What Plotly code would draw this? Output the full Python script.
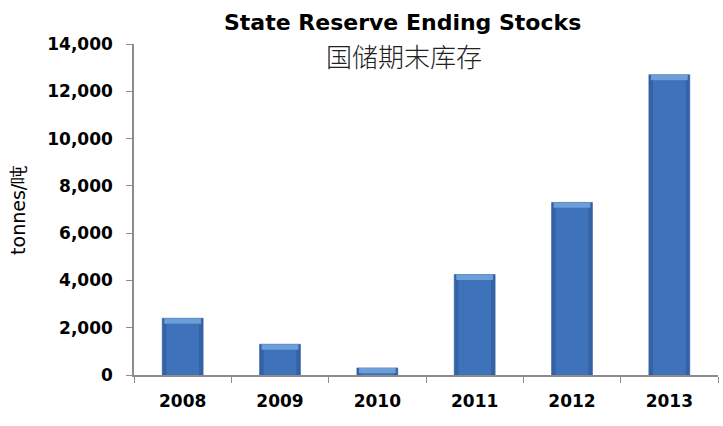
import plotly.graph_objects as go

# State reserve ending stocks by year (tonnes)
years = ["2008", "2009", "2010", "2011", "2012", "2013"]
stocks = [2400, 1300, 300, 4250, 7300, 12700]

y_ticks = [0, 2000, 4000, 6000, 8000, 10000, 12000, 14000]
y_tick_labels = ["0", "2,000", "4,000", "6,000", "8,000", "10,000", "12,000", "14,000"]

title_en = "State Reserve Ending Stocks"
title_zh = "国储期末库存"
y_title = "tonnes/吨"

BAR_W = 0.42
CAP = 230  # height of the light bevel at the top of each bar, in data units

fig = go.Figure()

# outer (darker edge) bar
fig.add_trace(go.Bar(
    x=years, y=stocks, width=BAR_W,
    marker=dict(color="#3462A6", line=dict(color="#2F5C9C", width=0.6)),
    hoverinfo="x+y",
))
# inner lighter body for a rounded look
fig.add_trace(go.Bar(
    x=years, y=[max(v - CAP, 0) for v in stocks], width=BAR_W * 0.8,
    marker=dict(color="#3E72BA", line=dict(width=0)),
    hoverinfo="skip",
))
# light bevel on top
fig.add_trace(go.Bar(
    x=years, y=[min(CAP, v) for v in stocks],
    base=[max(v - CAP, 0) for v in stocks], width=BAR_W * 0.9,
    marker=dict(color="#6C9FDA", line=dict(width=0)),
    hoverinfo="skip",
))

fig.update_layout(
    width=723, height=426,
    margin=dict(l=134, r=5, t=44, b=51),
    paper_bgcolor="white", plot_bgcolor="white",
    barmode="overlay",
    showlegend=False,
    font=dict(family="DejaVu Sans", color="black"),
    xaxis=dict(
        type="category",
        showline=True, linecolor="#8C8C8C", linewidth=1.5,
        ticks="outside", tickson="boundaries", ticklen=6, tickcolor="#8C8C8C",
        ticklabelstandoff=10,
        tickfont=dict(family="DejaVu Sans", size=17, weight="bold"),
        showgrid=False, zeroline=False,
    ),
    yaxis=dict(
        range=[0, 14000],
        tickvals=y_ticks, ticktext=y_tick_labels,
        showline=True, linecolor="#8C8C8C", linewidth=1.5,
        ticks="outside", ticklen=6, tickcolor="#8C8C8C",
        ticklabelstandoff=10,
        tickfont=dict(family="DejaVu Sans", size=17, weight="bold"),
        showgrid=False, zeroline=False,
    ),
    annotations=[
        dict(text=f"<b>{title_en}</b>", xref="paper", yref="paper",
             x=0.459, y=1.066, xanchor="center", yanchor="middle", showarrow=False,
             font=dict(family="DejaVu Sans", size=22, color="black")),
        dict(text=title_zh, xref="paper", yref="paper",
             x=0.462, y=0.966, xanchor="center", yanchor="middle", showarrow=False,
             font=dict(family="Noto Sans CJK SC", size=26, color="#222", weight=300)),
        dict(text=y_title, xref="paper", yref="paper",
             x=-0.199, y=0.498, xanchor="center", yanchor="middle", showarrow=False,
             textangle=-90,
             font=dict(family="DejaVu Sans", size=19, color="black")),
    ],
)

fig.write_html("out.html")
